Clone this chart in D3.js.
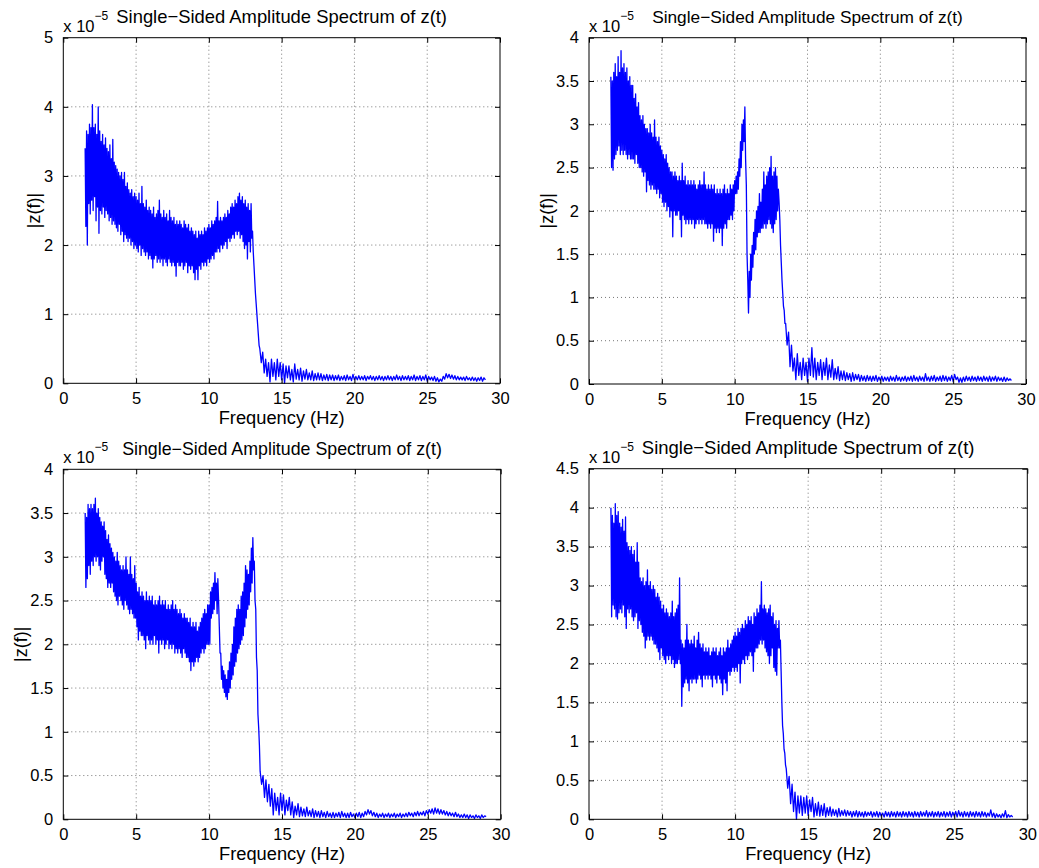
<!DOCTYPE html>
<html><head><meta charset="utf-8">
<script src="https://cdn.jsdelivr.net/npm/d3@7"></script>
<style>body{margin:0;background:#fff}svg{display:block}</style>
</head><body>
<script>
// ---- data (amplitudes in units of 1e-5) ----
// dense band 1.5–13.45 Hz sampled every 0.05 Hz, tail 13.5–29 Hz every 0.1 Hz
const denseStart = 1.5, denseStep = 0.05;
const tailStart = 13.5, tailStep = 0.1;
const xTicks = [0, 5, 10, 15, 20, 25, 30];
const yTicks5 = [0, 1, 2, 3, 4, 5];
const yTicks4 = [0, 0.5, 1, 1.5, 2, 2.5, 3, 3.5, 4];
const yTicks45 = [0, 0.5, 1, 1.5, 2, 2.5, 3, 3.5, 4, 4.5];
const titleText = "Single\u2212Sided Amplitude Spectrum of z(t)";
const xLabelText = "Frequency (Hz)";
const yLabelText = "|z(f)|";
const expBase = "x 10", expPow = "\u22125";

const denseA = [
3.4,2.27, 3.65,2.0, 3.6,2.6, 3.75,2.45, 3.7,2.65,
4.03,2.5, 3.7,2.7, 3.75,2.35, 3.6,2.55, 4.0,2.17,
3.65,2.5, 3.5,2.45, 3.6,2.55, 3.45,2.4, 3.55,2.5,
3.4,2.45, 3.35,2.35, 3.45,2.4, 3.25,2.3, 3.53,2.35,
3.2,2.3, 3.15,2.25, 3.1,2.2, 3.05,2.3, 3.0,2.15,
3.05,2.2, 2.95,2.05, 3.05,2.15, 2.85,2.1, 2.9,2.05,
2.8,2.1, 2.75,2.0, 2.8,2.05, 2.7,1.95, 2.75,2.0,
2.7,1.95, 2.65,1.9, 2.75,2.0, 2.6,1.85, 2.85,1.95,
2.6,1.9, 2.55,1.85, 2.65,1.9, 2.5,1.8, 2.55,1.85,
2.5,1.8, 2.45,1.67, 2.55,1.8, 2.4,1.85, 2.45,1.75,
2.5,1.8, 2.65,1.75, 2.45,1.8, 2.4,1.7, 2.5,1.8,
2.4,1.75, 2.45,1.7, 2.35,1.8, 2.5,1.75, 2.4,1.7,
2.35,1.75, 2.4,1.7, 2.3,1.55, 2.35,1.75, 2.3,1.7,
2.35,1.7, 2.3,1.75, 2.25,1.65, 2.35,1.7, 2.3,1.75,
2.25,1.6, 2.3,1.7, 2.2,1.65, 2.25,1.7, 2.2,1.6,
2.15,1.5, 2.2,1.65, 2.1,1.5, 2.2,1.7, 2.15,1.65,
2.2,1.75, 2.15,1.7, 2.25,1.75, 2.2,1.7, 2.25,1.8,
2.3,1.75, 2.25,1.8, 2.35,1.85, 2.3,1.8, 2.35,1.9,
2.4,1.9, 2.63,1.95, 2.35,1.9, 2.4,2.0, 2.35,1.95,
2.4,2.0, 2.45,2.05, 2.4,1.95, 2.5,2.1, 2.45,2.05,
2.55,2.1, 2.6,2.15, 2.55,2.1, 2.65,2.2, 2.6,2.15,
2.7,2.2, 2.75,2.1, 2.65,2.15, 2.7,2.05, 2.6,1.95,
2.65,2.0, 2.55,1.8, 2.6,2.05, 2.5,1.9, 2.6,2.1,
2.2,1.9, 1.7,1.5, 1.3,1.15, 1.0,0.85, 0.7,0.55
];
const tailA = [
0.5,0.3,0.45,0.15,0.35,0.1,0.3,0.02,0.35,0.1,
0.3,0.05,0.35,0.1,0.3,0.05,0.28,0.0,0.25,0.08,
0.25,0.05,0.2,0.02,0.28,0.06,0.2,0.05,0.22,0.03,
0.18,0.06,0.2,0.05,0.15,0.05,0.18,0.04,0.14,0.05,
0.15,0.05,0.14,0.04,0.12,0.05,0.13,0.04,0.12,0.05,
0.12,0.04,0.11,0.05,0.12,0.04,0.1,0.05,0.11,0.04,
0.12,0.05,0.1,0.04,0.13,0.05,0.1,0.05,0.11,0.05,
0.1,0.05,0.11,0.04,0.1,0.06,0.11,0.05,0.1,0.04,
0.1,0.05,0.11,0.05,0.1,0.04,0.1,0.05,0.11,0.05,
0.1,0.04,0.1,0.05,0.12,0.05,0.1,0.04,0.11,0.05,
0.1,0.05,0.11,0.04,0.1,0.05,0.12,0.04,0.1,0.05,
0.11,0.04,0.1,0.05,0.12,0.03,0.1,0.05,0.09,0.04,
0.1,0.03,0.08,0.02,0.06,0.03,0.1,0.06,0.14,0.08,
0.13,0.07,0.12,0.06,0.11,0.05,0.1,0.05,0.09,0.05,
0.09,0.04,0.1,0.05,0.08,0.04,0.09,0.04,0.08,0.03,
0.08,0.04,0.09,0.03,0.08,0.05
];

const denseB = [
3.55,2.5, 3.5,2.47, 3.6,2.6, 3.7,2.65, 3.55,2.7,
3.78,2.75, 3.6,2.65, 3.85,2.7, 3.65,2.65, 3.7,2.7,
3.6,2.65, 3.65,2.6, 3.5,2.65, 3.55,2.6, 3.45,2.6,
3.45,2.6, 3.3,2.55, 3.35,2.65, 3.2,2.55, 3.25,2.5,
3.1,2.5, 3.05,2.45, 3.1,2.4, 3.0,2.45, 2.95,2.22,
2.95,2.35, 2.9,2.3, 3.0,2.25, 2.9,2.3, 2.85,2.25,
3.05,2.25, 2.85,2.2, 2.8,2.25, 2.85,2.15, 2.75,2.2,
2.7,2.1, 2.65,2.05, 2.6,2.1, 2.65,2.0, 2.55,2.05,
2.5,1.93, 2.45,2.0, 2.45,1.7, 2.4,2.0, 2.45,1.95,
2.4,1.95, 2.35,2.0, 2.4,1.9, 2.35,1.7, 2.55,1.95,
2.35,1.9, 2.4,1.85, 2.3,1.9, 2.35,1.85, 2.3,1.9,
2.35,1.85, 2.3,1.9, 2.35,1.8, 2.3,1.85, 2.25,1.9,
2.3,1.85, 2.35,1.9, 2.3,1.85, 2.3,1.9, 2.45,1.85,
2.3,1.85, 2.25,1.8, 2.3,1.85, 2.25,1.8, 2.3,1.85,
2.25,1.65, 2.3,1.8, 2.2,1.75, 2.25,1.8, 2.2,1.75,
2.25,1.8, 2.2,1.6, 2.25,1.8, 2.3,1.85, 2.2,1.8,
2.25,1.9, 2.2,1.9, 2.3,1.95, 2.25,1.9, 2.3,2.0,
2.35,2.2, 2.4,2.2, 2.45,2.25, 2.6,2.4, 2.8,2.5,
3.0,2.7, 3.05,2.8, 3.2,2.6, 2.3,1.5, 1.2,0.82,
1.3,1.0, 1.5,1.2, 1.6,1.35, 1.75,1.5, 1.9,1.55,
2.0,1.7, 2.05,1.75, 2.2,1.75, 2.1,1.8, 2.25,1.8,
2.45,1.85, 2.3,1.8, 2.4,1.85, 2.45,1.9, 2.5,1.85,
2.63,1.8, 2.4,1.75, 2.45,1.85, 2.5,1.9, 2.4,2.0,
2.25,2.1, 1.9,1.6, 1.4,1.2, 1.05,0.9, 0.85,0.7
];
const tailB = [
0.7,0.45,0.6,0.2,0.45,0.15,0.3,0.05,0.35,0.1,
0.25,0.05,0.3,0.1,0.25,0.03,0.3,0.1,0.42,0.08,
0.3,0.05,0.25,0.1,0.28,0.05,0.25,0.1,0.3,0.05,
0.22,0.08,0.28,0.05,0.18,0.06,0.2,0.04,0.15,0.05,
0.15,0.04,0.13,0.05,0.12,0.03,0.13,0.04,0.11,0.05,
0.11,0.03,0.1,0.04,0.09,0.03,0.1,0.04,0.09,0.03,
0.09,0.04,0.1,0.03,0.08,0.04,0.09,0.03,0.08,0.04,
0.08,0.03,0.09,0.04,0.08,0.03,0.1,0.04,0.08,0.03,
0.08,0.04,0.09,0.03,0.08,0.04,0.09,0.03,0.1,0.04,
0.08,0.03,0.09,0.04,0.08,0.03,0.12,0.04,0.08,0.03,
0.09,0.04,0.1,0.03,0.08,0.04,0.09,0.03,0.1,0.04,
0.09,0.03,0.08,0.04,0.1,0.03,0.11,0.05,0.08,0.02,
0.07,0.02,0.08,0.03,0.09,0.04,0.08,0.03,0.09,0.04,
0.08,0.03,0.09,0.04,0.08,0.03,0.09,0.04,0.08,0.03,
0.09,0.03,0.08,0.04,0.09,0.03,0.08,0.04,0.07,0.03,
0.08,0.03,0.07,0.04,0.06,0.04
];

const denseC = [
3.5,2.65, 3.45,2.75, 3.6,2.9, 3.55,2.8, 3.6,2.95,
3.55,2.9, 3.6,3.0, 3.67,2.95, 3.5,3.0, 3.55,2.9,
3.45,2.85, 3.4,2.95, 3.35,3.0, 3.4,2.8, 3.3,2.75,
3.2,2.65, 3.25,2.7, 3.15,2.65, 3.1,2.7, 3.05,2.6,
3.0,2.55, 2.95,2.5, 3.05,2.45, 2.95,2.55, 2.9,2.5,
2.85,2.45, 2.9,2.4, 2.85,2.5, 3.0,2.45, 2.85,2.4,
2.8,2.35, 3.0,2.4, 2.8,2.35, 2.75,2.3, 2.9,2.3,
2.7,2.2, 2.6,2.05, 2.65,2.15, 2.55,2.1, 2.6,2.1,
2.55,2.05, 2.5,1.95, 2.6,2.1, 2.5,2.05, 2.55,2.0,
2.5,2.05, 2.55,2.0, 2.45,2.1, 2.5,2.0, 2.45,2.05,
2.5,1.9, 2.55,2.05, 2.45,2.0, 2.5,2.05, 2.45,1.95,
2.5,2.0, 2.4,2.05, 2.45,1.95, 2.4,2.0, 2.45,1.95,
2.5,2.0, 2.4,1.9, 2.45,1.95, 2.4,1.9, 2.35,1.95,
2.4,1.9, 2.35,1.85, 2.3,1.95, 2.35,1.9, 2.3,1.85,
2.3,1.85, 2.25,1.8, 2.3,1.7, 2.2,1.8, 2.25,1.75,
2.2,1.8, 2.25,1.85, 2.15,1.8, 2.2,1.85, 2.25,1.9,
2.3,1.95, 2.35,1.9, 2.4,1.95, 2.35,2.0, 2.45,2.0,
2.45,2.0, 2.6,2.3, 2.65,2.35, 2.7,2.4, 2.82,2.5,
2.7,2.35, 2.75,2.5, 2.2,1.9, 1.9,1.6, 1.75,1.5,
1.7,1.45, 1.65,1.4, 1.6,1.37, 1.7,1.45, 1.8,1.5,
1.9,1.6, 2.0,1.65, 2.2,1.75, 2.3,1.8, 2.4,1.9,
2.45,1.95, 2.4,2.0, 2.55,2.05, 2.6,2.1, 2.7,2.2,
2.9,2.3, 2.85,2.4, 2.8,2.45, 2.95,2.6, 3.1,2.7,
3.22,2.85, 2.95,2.5, 2.4,1.85, 1.7,1.2, 1.05,0.85
];
const tailC = [
0.55,0.4,0.5,0.25,0.45,0.2,0.4,0.15,0.35,0.05,
0.3,0.1,0.25,0.05,0.3,0.1,0.28,0.05,0.22,0.1,
0.25,0.05,0.2,0.02,0.15,0.05,0.18,0.03,0.14,0.04,
0.12,0.03,0.14,0.04,0.1,0.03,0.12,0.02,0.1,0.03,
0.09,0.02,0.1,0.03,0.08,0.02,0.09,0.03,0.07,0.02,
0.08,0.02,0.07,0.03,0.08,0.02,0.09,0.03,0.07,0.02,
0.07,0.02,0.08,0.03,0.06,0.02,0.07,0.03,0.08,0.02,
0.07,0.03,0.09,0.05,0.11,0.06,0.1,0.04,0.08,0.03,
0.07,0.02,0.06,0.03,0.07,0.02,0.06,0.03,0.07,0.02,
0.06,0.03,0.07,0.02,0.06,0.03,0.07,0.02,0.06,0.03,
0.07,0.03,0.08,0.04,0.07,0.03,0.08,0.04,0.09,0.04,
0.08,0.05,0.09,0.04,0.1,0.06,0.11,0.07,0.12,0.06,
0.13,0.07,0.12,0.06,0.11,0.06,0.1,0.05,0.09,0.04,
0.08,0.04,0.07,0.03,0.08,0.03,0.06,0.02,0.05,0.02,
0.06,0.02,0.05,0.01,0.05,0.02,0.04,0.01,0.05,0.02,
0.04,0.01,0.05,0.02,0.04,0.03
];

const denseD = [
4.0,2.6, 3.9,2.75, 3.8,2.7, 4.05,2.6, 3.9,2.57,
3.95,2.65, 3.8,2.7, 3.75,2.65, 3.85,2.75, 3.7,2.6,
3.88,2.45, 3.55,2.7, 3.5,2.65, 3.45,2.7, 3.5,2.6,
3.4,2.55, 3.45,2.6, 3.3,2.65, 3.55,2.45, 3.3,2.55,
3.1,2.5, 3.05,2.4, 3.1,2.35, 3.0,2.2, 3.05,2.3,
3.2,2.35, 3.0,2.3, 3.05,2.35, 2.95,2.3, 3.0,2.25,
2.95,2.25, 2.85,2.2, 2.9,2.15, 2.85,2.05, 2.8,2.2,
2.7,2.1, 2.75,2.05, 2.65,2.0, 2.7,2.1, 2.65,2.05,
2.6,2.1, 2.65,2.0, 2.8,2.05, 2.6,1.95, 2.65,2.0,
2.7,2.0, 2.75,2.05, 3.1,2.0, 2.3,1.45, 2.25,1.7,
2.2,1.75, 2.3,1.8, 2.5,1.75, 2.3,1.65, 2.25,1.8,
2.3,1.75, 2.25,1.8, 2.35,1.8, 2.2,1.75, 2.3,1.8,
2.4,1.85, 2.25,1.8, 2.2,1.7, 2.25,1.85, 2.15,1.8,
2.2,1.85, 2.15,1.8, 2.2,1.85, 2.1,1.8, 2.15,1.7,
2.2,1.85, 2.15,1.8, 2.2,1.75, 2.1,1.85, 2.15,1.8,
2.2,1.75, 2.1,1.6, 2.2,1.8, 2.15,1.75, 2.2,1.65,
2.3,1.9, 2.2,1.85, 2.25,1.9, 2.3,1.95, 2.35,1.9,
2.4,1.95, 2.35,1.9, 2.45,2.0, 2.4,1.75, 2.45,2.0,
2.5,2.05, 2.45,2.0, 2.55,2.1, 2.5,2.05, 2.6,2.1,
2.55,2.15, 2.6,2.1, 2.5,1.9, 2.65,2.15, 2.6,2.2,
2.7,2.2, 2.65,2.25, 2.75,2.3, 3.05,2.25, 2.7,2.3,
2.75,2.2, 2.7,2.15, 2.65,2.1, 2.7,2.0, 2.75,2.1,
2.6,2.2, 2.65,1.95, 2.5,1.9, 2.55,1.85, 2.45,2.2,
2.55,2.2, 2.3,1.9, 1.5,1.2, 1.1,0.9, 0.85,0.7
];
const tailD = [
0.65,0.4,0.55,0.2,0.45,0.1,0.35,0.0,0.3,0.08,
0.3,0.05,0.28,0.08,0.3,0.05,0.25,0.1,0.28,0.03,
0.2,0.05,0.22,0.04,0.18,0.05,0.2,0.03,0.15,0.05,
0.16,0.04,0.13,0.05,0.12,0.03,0.14,0.04,0.11,0.05,
0.12,0.04,0.11,0.05,0.1,0.03,0.1,0.04,0.11,0.03,
0.1,0.04,0.09,0.03,0.1,0.04,0.09,0.05,0.1,0.03,
0.09,0.04,0.1,0.03,0.09,0.04,0.08,0.03,0.1,0.04,
0.09,0.03,0.1,0.04,0.09,0.03,0.1,0.04,0.09,0.03,
0.1,0.04,0.09,0.03,0.1,0.04,0.09,0.03,0.1,0.04,
0.09,0.03,0.1,0.04,0.09,0.04,0.11,0.03,0.09,0.04,
0.1,0.03,0.09,0.04,0.1,0.03,0.09,0.04,0.1,0.03,
0.09,0.04,0.1,0.03,0.09,0.04,0.1,0.03,0.11,0.04,
0.09,0.03,0.1,0.04,0.09,0.03,0.1,0.04,0.09,0.03,
0.1,0.04,0.09,0.03,0.1,0.04,0.09,0.03,0.08,0.04,
0.12,0.03,0.08,0.02,0.07,0.03,0.06,0.02,0.07,0.03,
0.11,0.02,0.06,0.03,0.05,0.03
];

// ---- layout ----
const W = 1039, H = 868;
const panels = [
  {dense: denseA, tail: tailA, yTicks: yTicks5, yMax: 5, left: 63.3, top: 37.7, w: 436.7, h: 345.6, yLab: 40, tFs: 18.4},
  {dense: denseB, tail: tailB, yTicks: yTicks4, yMax: 4, left: 589, top: 37.7, w: 437, h: 346.3, yLab: 553, tFs: 17.3},
  {dense: denseC, tail: tailC, yTicks: yTicks4, yMax: 4, left: 63.3, top: 469.3, w: 437.4, h: 350, yLab: 26.5, tFs: 17.8},
  {dense: denseD, tail: tailD, yTicks: yTicks45, yMax: 4.5, left: 589, top: 468.7, w: 438.3, h: 350.6, yLab: null, tFs: 18.5}
];
const FONT = "'Liberation Sans', Arial, Helvetica, sans-serif";

const svg = d3.select("body").append("svg").attr("width", W).attr("height", H)
  .style("font-family", FONT);

panels.forEach(p => {
  const data = p.dense.map((v, i) => ({f: denseStart + i * denseStep, v}))
    .concat(p.tail.map((v, i) => ({f: tailStart + i * tailStep, v})));
  const x = d3.scaleLinear().domain([0, 30]).range([p.left, p.left + p.w]);
  const y = d3.scaleLinear().domain([0, p.yMax]).range([p.top + p.h, p.top]);
  const g = svg.append("g");

  // grid
  g.selectAll(".gx").data(xTicks.slice(1, -1)).join("line")
    .attr("x1", d => x(d)).attr("x2", d => x(d)).attr("y1", p.top).attr("y2", p.top + p.h)
    .attr("stroke", "#777").attr("stroke-width", 1).attr("stroke-dasharray", "1,3");
  g.selectAll(".gy").data(p.yTicks.slice(1, -1)).join("line")
    .attr("y1", d => y(d)).attr("y2", d => y(d)).attr("x1", p.left).attr("x2", p.left + p.w)
    .attr("stroke", "#777").attr("stroke-width", 1).attr("stroke-dasharray", "1,3");

  // spectrum
  g.append("path").datum(data)
    .attr("d", d3.line().x(d => x(d.f)).y(d => y(d.v)))
    .attr("fill", "none").attr("stroke", "#0000ff").attr("stroke-width", 1.3)
    .attr("stroke-linejoin", "round");

  // axes with inward ticks on all sides
  const tl = 5;
  const ax = g.append("g").attr("transform", `translate(0,${p.top + p.h})`)
    .call(d3.axisBottom(x).tickValues(xTicks).tickSizeInner(-tl).tickSizeOuter(0).tickPadding(tl + 4));
  const axT = g.append("g").attr("transform", `translate(0,${p.top})`)
    .call(d3.axisTop(x).tickValues(xTicks).tickSizeInner(-tl).tickSizeOuter(0).tickFormat(""));
  const ay = g.append("g").attr("transform", `translate(${p.left},0)`)
    .call(d3.axisLeft(y).tickValues(p.yTicks).tickSizeInner(-tl).tickSizeOuter(0).tickPadding(tl + 5)
      .tickFormat(d => String(d)));
  const ayR = g.append("g").attr("transform", `translate(${p.left + p.w},0)`)
    .call(d3.axisRight(y).tickValues(p.yTicks).tickSizeInner(-tl).tickSizeOuter(0).tickFormat(""));
  [ax, axT, ay, ayR].forEach(a => {
    a.select(".domain").remove();
    a.selectAll("line").attr("stroke", "#000");
    a.selectAll("text").attr("fill", "#000").style("font-family", FONT).style("font-size", "16.5px");
  });
  ax.selectAll("text").attr("dy", "0.71em");

  // box
  g.append("rect").attr("x", p.left).attr("y", p.top).attr("width", p.w).attr("height", p.h)
    .attr("fill", "none").attr("stroke", "#000").attr("stroke-width", 1);

  // exponent label
  const ex = g.append("text").attr("x", p.left).attr("y", p.top - 6)
    .style("font-size", "16.5px").attr("fill", "#000");
  ex.append("tspan").text(expBase);
  ex.append("tspan").attr("dy", -12).style("font-size", "12px").text(expPow);

  // title
  g.append("text").attr("x", p.left + p.w / 2).attr("y", p.top - 14.5)
    .attr("text-anchor", "middle").style("font-size", p.tFs + "px").attr("fill", "#000")
    .text(titleText);

  // x label
  g.append("text").attr("x", p.left + p.w / 2).attr("y", p.top + p.h + 41)
    .attr("text-anchor", "middle").style("font-size", "18.3px").attr("fill", "#000")
    .text(xLabelText);

  // y label
  if (p.yLab !== null) {
    g.append("text")
      .attr("transform", `translate(${p.yLab},${p.top + p.h / 2}) rotate(-90)`)
      .attr("text-anchor", "middle").style("font-size", "18px").attr("fill", "#000")
      .text(yLabelText);
  }
});
</script>
</body></html>
